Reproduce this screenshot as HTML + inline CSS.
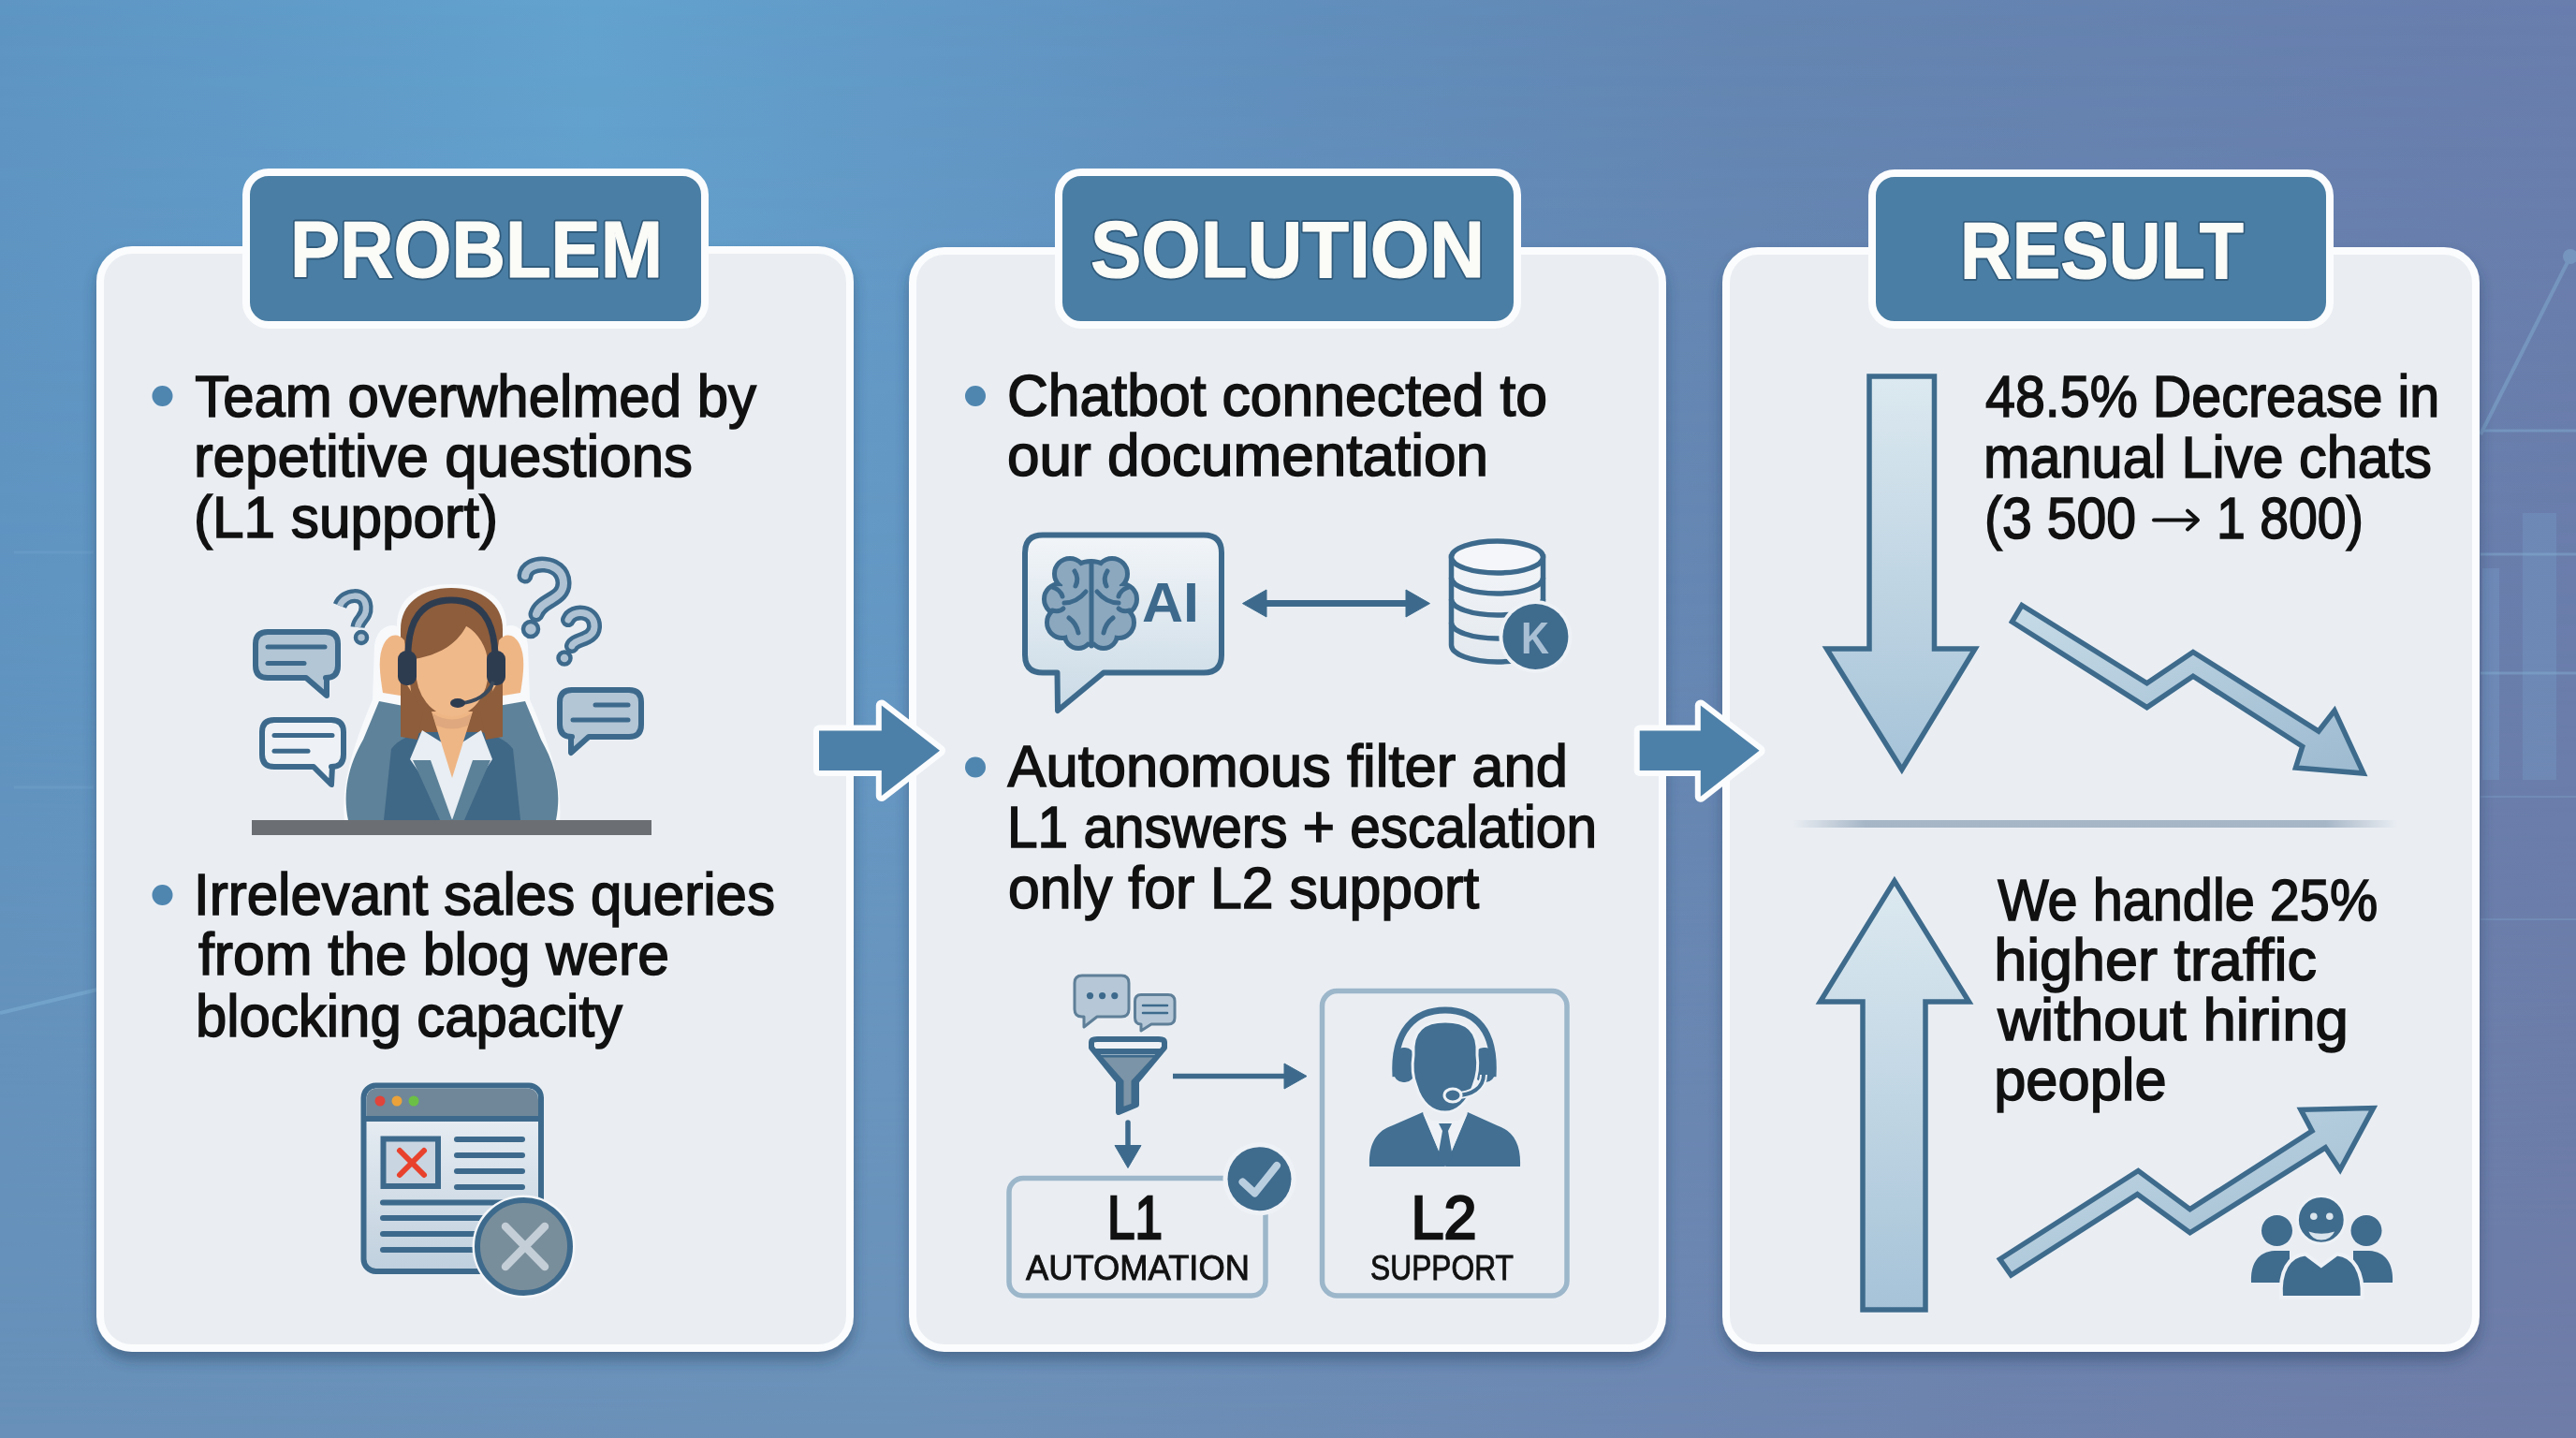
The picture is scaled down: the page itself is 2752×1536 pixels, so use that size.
<!DOCTYPE html>
<html><head><meta charset="utf-8">
<style>
html,body{margin:0;padding:0;width:2752px;height:1536px;overflow:hidden;background:#6189b6;}
svg{display:block;position:absolute;left:0;top:0;}
text{font-family:"Liberation Sans",sans-serif;}
</style></head>
<body>
<svg width="2752" height="1536" viewBox="0 0 2752 1536">
<defs>
  <linearGradient id="bgH" x1="0" y1="0" x2="1" y2="0">
    <stop offset="0" stop-color="#5e95c3"/>
    <stop offset="0.23" stop-color="#63a2cf"/>
    <stop offset="0.5" stop-color="#618fbd"/>
    <stop offset="0.68" stop-color="#6486b2"/>
    <stop offset="1" stop-color="#697ead"/>
  </linearGradient>
  <linearGradient id="bgB" x1="0" y1="0" x2="1" y2="0">
    <stop offset="0" stop-color="#6890b8"/>
    <stop offset="0.35" stop-color="#6c91b8"/>
    <stop offset="0.65" stop-color="#6d87b1"/>
    <stop offset="1" stop-color="#6e7ca7"/>
  </linearGradient>
  <linearGradient id="bgMaskG" x1="0" y1="0" x2="0" y2="1">
    <stop offset="0" stop-color="#fff" stop-opacity="0"/>
    <stop offset="0.45" stop-color="#fff" stop-opacity="0.25"/>
    <stop offset="1" stop-color="#fff" stop-opacity="1"/>
  </linearGradient>
  <mask id="bgMask" maskUnits="userSpaceOnUse" x="0" y="0" width="2752" height="1536">
    <rect x="0" y="0" width="2752" height="1536" fill="url(#bgMaskG)"/>
  </mask>
  <filter id="shadow" x="-5%" y="-5%" width="110%" height="112%">
    <feGaussianBlur in="SourceAlpha" stdDeviation="7"/>
    <feOffset dx="0" dy="9" result="b"/>
    <feFlood flood-color="#243f5e" flood-opacity="0.45"/>
    <feComposite in2="b" operator="in"/>
    <feMerge><feMergeNode/><feMergeNode in="SourceGraphic"/></feMerge>
  </filter>
  <linearGradient id="arrowFill" x1="0" y1="0" x2="0" y2="1">
    <stop offset="0" stop-color="#dbe8f0"/>
    <stop offset="1" stop-color="#a9c3d7"/>
  </linearGradient>
</defs>

<!-- background -->
<rect x="0" y="0" width="2752" height="1536" fill="url(#bgH)"/>
<rect x="0" y="0" width="2752" height="1536" fill="url(#bgB)" mask="url(#bgMask)"/>

<!-- faint background decorations -->
<g stroke="#8cc0e0" fill="none" opacity="0.35">
  <line x1="15" y1="590" x2="100" y2="590" stroke-width="3" opacity="0.5"/>
  <line x1="15" y1="841" x2="100" y2="841" stroke-width="3" opacity="0.5"/>
  <line x1="0" y1="1082" x2="104" y2="1057" stroke-width="4"/>
  <line x1="2650" y1="464" x2="2746" y2="274" stroke-width="4"/>
  <circle cx="2746" cy="274" r="8" fill="#8cc0e0" stroke="none"/>
  <line x1="2650" y1="460" x2="2752" y2="460" stroke-width="3"/>
  <line x1="2650" y1="592" x2="2752" y2="592" stroke-width="3"/>
  <line x1="2650" y1="719" x2="2752" y2="719" stroke-width="3"/>
  <line x1="2650" y1="851" x2="2752" y2="851" stroke-width="2" opacity="0.6"/>
  <line x1="2650" y1="982" x2="2752" y2="982" stroke-width="2" opacity="0.6"/>
</g>
<g fill="#7fb3d8" opacity="0.22">
  <rect x="2695" y="548" width="36" height="285"/>
  <rect x="2652" y="607" width="18" height="226"/>
</g>
<!-- cards -->
<g filter="url(#shadow)">
  <rect x="107" y="267" width="801" height="1173" rx="34" fill="#eaeef3" stroke="#fbfcfd" stroke-width="8"/>
  <rect x="975" y="268" width="801" height="1172" rx="34" fill="#eaeef3" stroke="#fbfcfd" stroke-width="8"/>
  <rect x="1844" y="268" width="801" height="1172" rx="34" fill="#eaeef3" stroke="#fbfcfd" stroke-width="8"/>
</g>

<!-- tabs -->
<g>
  <rect x="263" y="184" width="490" height="163" rx="24" fill="#4a7ea4" stroke="#fbfcfd" stroke-width="8"/>
  <rect x="1131" y="184" width="490" height="163" rx="24" fill="#4a7ea4" stroke="#fbfcfd" stroke-width="8"/>
  <rect x="2000" y="185" width="489" height="162" rx="24" fill="#4a7ea4" stroke="#fbfcfd" stroke-width="8"/>
</g>
<g font-weight="bold" font-size="86" fill="#2c5676" stroke="#2c5676" stroke-width="5" stroke-linejoin="round" opacity="0.85">
  <text x="310" y="296" textLength="398" lengthAdjust="spacingAndGlyphs">PROBLEM</text>
  <text x="1165" y="296" textLength="421" lengthAdjust="spacingAndGlyphs">SOLUTION</text>
  <text x="2094" y="297" textLength="303" lengthAdjust="spacingAndGlyphs">RESULT</text>
</g>
<g font-weight="bold" font-size="86" fill="#fbfbf8" stroke="#fbfbf8" stroke-width="1.2" stroke-linejoin="round">
  <text id="t_prob" x="310" y="296" textLength="398" lengthAdjust="spacingAndGlyphs">PROBLEM</text>
  <text id="t_sol" x="1165" y="296" textLength="421" lengthAdjust="spacingAndGlyphs">SOLUTION</text>
  <text id="t_res" x="2094" y="297" textLength="303" lengthAdjust="spacingAndGlyphs">RESULT</text>
</g>

<!-- bullets -->
<g fill="#4f86b0">
  <circle cx="173.5" cy="423" r="11"/>
  <circle cx="173.5" cy="956" r="11"/>
  <circle cx="1042" cy="423" r="11"/>
  <circle cx="1042" cy="819.5" r="11"/>
</g>

<!-- body text -->
<g font-size="63" fill="#111" stroke="#111" stroke-width="1.6">
  <text x="208.2" y="445" textLength="599.8" lengthAdjust="spacingAndGlyphs">Team overwhelmed by</text>
  <text x="207.0" y="509" textLength="533.0" lengthAdjust="spacingAndGlyphs">repetitive questions</text>
  <text x="207.0" y="574" textLength="325.0" lengthAdjust="spacingAndGlyphs">(L1 support)</text>

  <text x="207.0" y="977" textLength="621.0" lengthAdjust="spacingAndGlyphs">Irrelevant sales queries</text>
  <text x="212.0" y="1041" textLength="503.0" lengthAdjust="spacingAndGlyphs">from the blog were</text>
  <text x="209.0" y="1107" textLength="456.0" lengthAdjust="spacingAndGlyphs">blocking capacity</text>

  <text x="1076.0" y="444" textLength="577.0" lengthAdjust="spacingAndGlyphs">Chatbot connected to</text>
  <text x="1076.0" y="508" textLength="514.0" lengthAdjust="spacingAndGlyphs">our documentation</text>

  <text x="1076.4" y="840" textLength="598.6" lengthAdjust="spacingAndGlyphs">Autonomous filter and</text>
  <text x="1076.0" y="905" textLength="630.0" lengthAdjust="spacingAndGlyphs">L1 answers + escalation</text>
  <text x="1077.0" y="970" textLength="503.0" lengthAdjust="spacingAndGlyphs">only for L2 support</text>

  <text x="2121.0" y="445" textLength="485.2" lengthAdjust="spacingAndGlyphs">48.5% Decrease in</text>
  <text x="2119.0" y="509.5" textLength="479.0" lengthAdjust="spacingAndGlyphs">manual Live chats</text>
  <text x="2120" y="575" textLength="162" lengthAdjust="spacingAndGlyphs">(3 500</text>
  <text x="2368" y="575" textLength="157" lengthAdjust="spacingAndGlyphs">1 800)</text>

  <text x="2134.2" y="983" textLength="406.0" lengthAdjust="spacingAndGlyphs">We handle 25%</text>
  <text x="2130.2" y="1047" textLength="344.8" lengthAdjust="spacingAndGlyphs">higher traffic</text>
  <text x="2134.2" y="1111" textLength="374.8" lengthAdjust="spacingAndGlyphs">without hiring</text>
  <text x="2130.2" y="1175" textLength="184.4" lengthAdjust="spacingAndGlyphs">people</text>
</g>

<!-- ILLUSTRATIONS -->
<!-- card1: woman illustration -->
<g id="woman">
  <!-- white halo behind figure -->
  <path d="M372,877 C368,840 380,800 402,748 L404,690 C406,672 420,668 428,676 L428,665 C430,640 450,628 482,628 C515,628 535,640 537,665 L537,676 C545,668 558,672 560,690 L562,748 C585,800 597,840 594,877 Z" fill="#f7f9fb" stroke="#f7f9fb" stroke-width="8" stroke-linejoin="round"/>
  <rect x="269" y="876" width="427" height="16" fill="#6b6e72"/>
  <!-- hair back -->
  <path d="M428,785 L428,672 C428,645 450,628 482,628 C515,628 537,645 537,672 L537,785 Z" fill="#8d5d3c"/>
  <!-- hands -->
  <path d="M409,740 C405,715 404,700 410,688 C416,676 426,676 432,684 L440,745 Z" fill="#efb685"/>
  <path d="M556,740 C560,715 561,700 555,688 C549,676 539,676 533,684 L525,745 Z" fill="#efb685"/>
  <!-- sleeves -->
  <path d="M372,876 C366,846 372,818 388,790 L405,749 L431,754 L448,800 L440,876 Z" fill="#5d8299"/>
  <path d="M594,876 C600,846 594,818 578,790 L561,749 L532,754 L517,800 L525,876 Z" fill="#5d8299"/>
  <!-- torso -->
  <path d="M410,876 L418,800 C425,790 440,784 452,782 L514,782 C526,784 541,790 548,800 L556,876 Z" fill="#3f6786"/>
  <!-- hair lower strands over jacket -->
  <path d="M428,720 L428,787 L446,790 L452,760 Z" fill="#8d5d3c"/>
  <path d="M537,720 L537,787 L519,790 L513,760 Z" fill="#8d5d3c"/>
  <!-- shirt -->
  <path d="M438,811 L451,780 L483,800 L514,780 L526,811 L483,876 Z" fill="#e8eef3"/>
  <!-- neck V -->
  <path d="M461,760 L505,760 L483,831 Z" fill="#efb685"/>
  <!-- lapels -->
  <path d="M441,812 L460,812 L483,876 L470,876 Z" fill="#5b8198"/>
  <path d="M524,812 L505,812 L483,876 L496,876 Z" fill="#5b8198"/>
  <!-- face -->
  <ellipse cx="483" cy="715" rx="39" ry="50" fill="#f0b98a"/>
  <path d="M462,762 Q483,775 504,762 L500,775 Q483,782 466,775 Z" fill="#d9a27a" opacity="0.7"/>
  <!-- hair fringe -->
  <path d="M434,705 C434,662 452,640 482,640 C514,640 532,662 532,705 C528,698 525,694 521,690 C512,680 504,672 499,667 C488,690 465,702 434,705 Z" fill="#8d5d3c"/>
  <!-- headset -->
  <path d="M436,708 C434,660 452,641 482,641 C512,641 530,660 529,708" fill="none" stroke="#2e3c50" stroke-width="7"/>
  <rect x="425" y="695" width="20" height="37" rx="9" fill="#2e3c50"/>
  <rect x="520" y="695" width="20" height="37" rx="9" fill="#2e3c50"/>
  <path d="M527,728 C522,742 508,750 492,751" fill="none" stroke="#3a4a5c" stroke-width="4"/>
  <ellipse cx="489" cy="751" rx="8" ry="5" fill="#2e3c50"/>
</g>
<!-- speech bubbles + question marks -->
<g stroke="#3d6a8c" stroke-width="6" stroke-linejoin="round">
  <path d="M286,675 L348,675 Q361,675 361,688 L361,711 Q361,724 348,724 L349,724 L349,743 L327,724 L286,724 Q273,724 273,711 L273,688 Q273,675 286,675 Z" fill="#b3c6d6"/>
  <path d="M293,769 L354,769 Q367,769 367,782 L367,806 Q367,819 354,819 L355,819 L354,838 L335,819 L293,819 Q280,819 280,806 L280,782 Q280,769 293,769 Z" fill="#eef2f6"/>
  <path d="M611,737 L672,737 Q685,737 685,750 L685,774 Q685,787 672,787 L629,787 L610,804 L610,787 L611,787 Q598,787 598,774 L598,750 Q598,737 611,737 Z" fill="#b3c6d6"/>
</g>
<g stroke="#3d6a8c" stroke-width="5" stroke-linecap="round">
  <line x1="286" y1="691" x2="347" y2="691"/>
  <line x1="286" y1="708.5" x2="325" y2="708.5"/>
  <line x1="293" y1="785.5" x2="355" y2="785.5"/>
  <line x1="293" y1="802.3" x2="329" y2="802.3"/>
  <line x1="636" y1="753" x2="671" y2="753"/>
  <line x1="612" y1="769" x2="671" y2="769"/>
</g>
<g fill="none" stroke-linecap="round" stroke-linejoin="round">
  <path d="M363,647 C368,634 390,632 391,648 C392,660 383,661 382,670" stroke="#3d6a8c" stroke-width="15" stroke-linecap="butt"/>
  <path d="M363,647 C368,634 390,632 391,648 C392,660 383,661 382,670" stroke="#aec2d3" stroke-width="6.5" stroke-linecap="butt"/>
  <circle cx="386" cy="681" r="6" fill="#aec2d3" stroke="#3d6a8c" stroke-width="4.5"/>
  <path d="M561,615 C563,598 601,598 602,622 C603,641 578,640 573,656" stroke="#3d6a8c" stroke-width="17"/>
  <path d="M561,615 C563,598 601,598 602,622 C603,641 578,640 573,656" stroke="#aec2d3" stroke-width="8"/>
  <circle cx="567" cy="672" r="8" fill="#aec2d3" stroke="#3d6a8c" stroke-width="4.5"/>
  <path d="M607,662 C612,650 636,652 635,670 C634,684 614,682 611,690" stroke="#3d6a8c" stroke-width="16"/>
  <path d="M607,662 C612,650 636,652 635,670 C634,684 614,682 611,690" stroke="#aec2d3" stroke-width="7"/>
  <circle cx="603" cy="703" r="6.5" fill="#aec2d3" stroke="#3d6a8c" stroke-width="4.5"/>
</g>


<!-- card1: browser icon -->
<g id="browser">
  <defs>
    <linearGradient id="brBody" x1="0" y1="0" x2="0" y2="1">
      <stop offset="0" stop-color="#eef2f6"/><stop offset="1" stop-color="#c0d0de"/>
    </linearGradient>
  </defs>
  <rect x="388.5" y="1159.5" width="189.5" height="198.5" rx="13" fill="url(#brBody)" stroke="#3d6a8c" stroke-width="6"/>
  <path d="M391.5,1194 L391.5,1175 Q391.5,1162.5 404,1162.5 L562,1162.5 Q575,1162.5 575,1175 L575,1194 Z" fill="#6f8799"/>
  <line x1="388.5" y1="1195" x2="578" y2="1195" stroke="#3d6a8c" stroke-width="6"/>
  <circle cx="406" cy="1176" r="5.5" fill="#e0443a"/>
  <circle cx="424" cy="1176" r="5.5" fill="#eba23a"/>
  <circle cx="442" cy="1176" r="5.5" fill="#6cbf45"/>
  <rect x="409.5" y="1216.5" width="58.5" height="50.5" fill="#c9d5e0" stroke="#3d6a8c" stroke-width="6"/>
  <g stroke="#e8412c" stroke-width="6" stroke-linecap="round">
    <line x1="427" y1="1229" x2="453" y2="1255"/><line x1="453" y1="1229" x2="427" y2="1255"/>
  </g>
  <g stroke="#3d6a8c" stroke-width="6" stroke-linecap="round">
    <line x1="488" y1="1217" x2="558" y2="1217"/>
    <line x1="488" y1="1234" x2="558" y2="1234"/>
    <line x1="488" y1="1251" x2="558" y2="1251"/>
    <line x1="488" y1="1268" x2="558" y2="1268"/>
    <line x1="409" y1="1284.5" x2="540" y2="1284.5"/>
    <line x1="409" y1="1301" x2="520" y2="1301"/>
    <line x1="409" y1="1318" x2="520" y2="1318"/>
    <line x1="409" y1="1335" x2="520" y2="1335"/>
  </g>
  <circle cx="559.5" cy="1331.5" r="55" fill="#f4f6f9"/>
  <circle cx="559.5" cy="1331.5" r="49.5" fill="#798e9b" stroke="#3d6a8c" stroke-width="6"/>
  <g stroke="#c3ced7" stroke-width="8.5" stroke-linecap="round">
    <line x1="540" y1="1310" x2="582" y2="1353"/><line x1="582" y1="1310" x2="540" y2="1353"/>
  </g>
</g>

<!-- arrows between cards -->
<g fill="#fbfcfd" stroke="#fbfcfd" stroke-width="12" stroke-linejoin="round">
  <path d="M875,780.6 L941.8,780.6 L941.8,753.4 L1004,801.8 L941.8,850 L941.8,822.9 L875,822.9 Z"/>
  <path d="M1751.7,780.6 L1816.8,780.6 L1816.8,753.4 L1879.6,801.8 L1816.8,850.7 L1816.8,822.9 L1751.7,822.9 Z"/>
</g>
<g fill="#4d80a8">
  <path d="M875,780.6 L941.8,780.6 L941.8,753.4 L1004,801.8 L941.8,850 L941.8,822.9 L875,822.9 Z"/>
  <path d="M1751.7,780.6 L1816.8,780.6 L1816.8,753.4 L1879.6,801.8 L1816.8,850.7 L1816.8,822.9 L1751.7,822.9 Z"/>
</g>


<!-- card2: AI bubble -->
<g id="aibubble">
  <defs>
    <linearGradient id="bubG" x1="0" y1="0" x2="0" y2="1">
      <stop offset="0" stop-color="#f2f5f8"/><stop offset="1" stop-color="#c9dae6"/>
    </linearGradient>
    <linearGradient id="dbG" x1="0" y1="0" x2="0" y2="1">
      <stop offset="0" stop-color="#f3f5f8"/><stop offset="1" stop-color="#e3e9ef"/>
    </linearGradient>
  </defs>
  <path d="M1114,571.5 L1286,571.5 Q1305,571.5 1305,590.5 L1305,699.5 Q1305,718.5 1286,718.5 L1179,718.5 L1130,759 L1129.5,718.5 L1114,718.5 Q1095,718.5 1095,699.5 L1095,590.5 Q1095,571.5 1114,571.5 Z" fill="url(#bubG)" stroke="#3d6a8c" stroke-width="6" stroke-linejoin="round"/>
  <!-- brain: stroked union of lobes -->
  <g stroke="#3d6a8c" stroke-width="10" fill="#3d6a8c">
    <circle cx="1143" cy="613" r="14"/><circle cx="1188" cy="613" r="14"/>
    <circle cx="1132" cy="640" r="14"/><circle cx="1198" cy="640" r="14"/>
    <circle cx="1135" cy="665" r="14"/><circle cx="1195" cy="665" r="14"/>
    <circle cx="1152" cy="678" r="12"/><circle cx="1179" cy="678" r="12"/>
    <ellipse cx="1165.5" cy="644" rx="34" ry="42"/>
  </g>
  <g fill="#8ca8bf">
    <circle cx="1143" cy="613" r="14"/><circle cx="1188" cy="613" r="14"/>
    <circle cx="1132" cy="640" r="14"/><circle cx="1198" cy="640" r="14"/>
    <circle cx="1135" cy="665" r="14"/><circle cx="1195" cy="665" r="14"/>
    <circle cx="1152" cy="678" r="12"/><circle cx="1179" cy="678" r="12"/>
    <ellipse cx="1165.5" cy="644" rx="34" ry="42"/>
  </g>
  <g stroke="#3d6a8c" stroke-width="5" fill="none" stroke-linecap="round">
    <line x1="1166" y1="600" x2="1166" y2="690"/>
    <path d="M1137,644 Q1150,644 1160,632"/><path d="M1195,644 Q1182,644 1172,632"/>
    <path d="M1148,610 Q1153,618 1149,626"/><path d="M1183,610 Q1178,618 1182,626"/>
    <path d="M1142,660 Q1150,666 1152,676"/><path d="M1189,660 Q1181,666 1179,676"/>
    <path d="M1124,627 Q1133,630 1135,637"/><path d="M1206,627 Q1197,630 1195,637"/>
    <path d="M1124,652 Q1132,654 1136,650"/><path d="M1207,652 Q1199,654 1195,650"/>
  </g>
  <text x="1220" y="664.4" font-family="Liberation Sans" font-weight="bold" font-size="60" fill="#3d6a8c" textLength="61" lengthAdjust="spacingAndGlyphs">AI</text>
</g>
<!-- double arrow -->
<g fill="#3d6a8c" stroke="#3d6a8c">
  <line x1="1345" y1="644.6" x2="1510" y2="644.6" stroke-width="7"/>
  <path d="M1327.5,644.6 L1353,630 L1353,659 Z" stroke-width="1"/>
  <path d="M1527.5,644.6 L1502,630 L1502,659 Z" stroke-width="1"/>
</g>
<!-- database -->
<g id="db" stroke="#3d6a8c" stroke-width="5.5" fill="url(#dbG)">
  <path d="M1550.5,595 L1550.5,689 A49,18 0 0 0 1648.5,689 L1648.5,595 Z"/>
  <ellipse cx="1599.5" cy="595" rx="49" ry="17" fill="#f4f6f9"/>
  <path d="M1550.5,617 A49,17 0 0 0 1648.5,617" fill="none"/>
  <path d="M1550.5,640 A49,17 0 0 0 1648.5,640" fill="none"/>
  <path d="M1550.5,665 A49,17 0 0 0 1648.5,665" fill="none"/>
  <circle cx="1640.4" cy="680" r="39" fill="#eef2f6" stroke="none"/>
  <circle cx="1640.4" cy="680" r="35" fill="#3f6b8d" stroke="none"/>
  <text x="1625" y="698" font-family="Liberation Sans" font-weight="bold" font-size="48" fill="#a9c0d4" stroke="none" textLength="30" lengthAdjust="spacingAndGlyphs">K</text>
</g>

<!-- small chat bubbles -->
<g stroke="#5f7f98" stroke-width="3" stroke-linejoin="round">
  <path d="M1156,1042 L1198,1042 Q1206,1042 1206,1050 L1206,1078 Q1206,1086 1198,1086 L1172,1086 L1158,1097 L1158,1086 L1156,1086 Q1148,1086 1148,1078 L1148,1050 Q1148,1042 1156,1042 Z" fill="#b6c8d7"/>
  <path d="M1219,1062.5 L1248,1062.5 Q1255,1062.5 1255,1069.5 L1255,1087 Q1255,1094 1248,1094 L1230,1094 L1219,1101 L1219,1094 Q1212.5,1094 1212.5,1087 L1212.5,1069.5 Q1212.5,1062.5 1219,1062.5 Z" fill="#b6c8d7"/>
</g>
<g fill="#3d6a8c">
  <circle cx="1164.5" cy="1063.6" r="3.6"/><circle cx="1177.6" cy="1063.6" r="3.6"/><circle cx="1190.8" cy="1063.6" r="3.6"/>
</g>
<g stroke="#3d6a8c" stroke-width="2.5" stroke-linecap="round">
  <line x1="1221" y1="1074" x2="1247" y2="1074"/><line x1="1221" y1="1082" x2="1247" y2="1082"/>
</g>
<!-- funnel -->
<g stroke="#3d6a8c" stroke-width="6" stroke-linejoin="round">
  <path d="M1166,1113 Q1166,1110 1172,1110 L1238,1110 Q1244,1110 1244,1113 L1244,1119 L1214,1155 L1214,1180 L1195,1188 L1195,1155 L1166,1119 Z" fill="#eef2f6"/>
  <path d="M1175,1128 L1235,1128 L1210,1155 L1210,1180 L1199,1184 L1199,1155 Z" fill="#7c94a7" stroke-width="3"/>
  <line x1="1168" y1="1123" x2="1242" y2="1123" stroke-width="6"/>
</g>
<!-- arrows -->
<g fill="#3d6a8c" stroke="#3d6a8c">
  <line x1="1253" y1="1149.5" x2="1375" y2="1149.5" stroke-width="5.5"/>
  <path d="M1396,1149.5 L1372,1136 L1372,1163 Z" stroke-width="1"/>
  <line x1="1205" y1="1199" x2="1205" y2="1226" stroke-width="5.5" stroke-linecap="round"/>
  <path d="M1205,1247.5 L1191,1223.5 L1219,1223.5 Z" stroke-width="1"/>
</g>
<!-- L1 / L2 boxes -->
<g fill="none" stroke="#9cb6ca" stroke-width="5.5">
  <rect x="1078" y="1258.5" width="274" height="125.5" rx="15"/>
  <rect x="1412.5" y="1058.5" width="261.5" height="325.5" rx="16"/>
</g>
<!-- check badge -->
<circle cx="1345.5" cy="1259.2" r="39" fill="#eef2f6"/>
<circle cx="1345.5" cy="1259.2" r="34" fill="#3f6b8d"/>
<path d="M1327.5,1262.5 L1340.5,1274.5 L1364,1245" fill="none" stroke="#b9cfe0" stroke-width="8" stroke-linecap="round" stroke-linejoin="round"/>
<!-- agent icon -->
<g id="agent" fill="#426f92">
  <path d="M1491,1150 C1488,1100 1512,1079 1544,1079 C1576,1079 1598,1100 1595,1150" fill="none" stroke="#426f92" stroke-width="7"/>
  <rect x="1489" y="1119" width="22" height="37" rx="10"/>
  <rect x="1575" y="1119" width="22" height="37" rx="10"/>
  <path d="M1510,1127 C1508,1100 1522,1091 1544,1091 C1566,1091 1580,1100 1578,1127 C1580,1140 1578,1150 1574,1160 C1568,1178 1556,1188 1544,1188 C1530,1188 1518,1178 1513,1160 C1509,1150 1508,1140 1510,1127 Z" stroke="#eef2f6" stroke-width="3"/>
  <path d="M1463,1246 C1462,1222 1470,1208 1488,1202 L1520,1188 L1544,1246 Z"/>
  <path d="M1624,1246 C1625,1222 1617,1208 1599,1202 L1568,1188 L1544,1246 Z"/>
  <path d="M1520,1189 L1544,1246 L1568,1189 L1558,1197 L1544,1198 L1530,1197 Z" fill="#eef2f6"/>
  <path d="M1537,1200 L1551,1200 L1547,1208 L1552,1236 L1544,1246 L1536,1236 L1541,1208 Z"/>
  <path d="M1585,1148 C1585,1162 1572,1170 1556,1170" fill="none" stroke="#eef2f6" stroke-width="8"/>
  <path d="M1585,1148 C1585,1162 1572,1170 1556,1170" fill="none" stroke="#426f92" stroke-width="4"/>
  <ellipse cx="1552" cy="1170" rx="9" ry="7" stroke="#eef2f6" stroke-width="3"/>
</g>
<!-- L1/L2 labels -->
<g font-family="Liberation Sans" fill="#111" stroke="#111">
  <text x="1183" y="1322.7" font-size="65" stroke-width="2.6" textLength="59" lengthAdjust="spacingAndGlyphs">L1</text>
  <text x="1096" y="1366.8" font-size="37" stroke-width="0.9" textLength="239" lengthAdjust="spacingAndGlyphs">AUTOMATION</text>
  <text x="1507.5" y="1323" font-size="65" stroke-width="2.6" textLength="70" lengthAdjust="spacingAndGlyphs">L2</text>
  <text x="1464" y="1366.7" font-size="37" stroke-width="0.9" textLength="153" lengthAdjust="spacingAndGlyphs">SUPPORT</text>
</g>


<!-- card3 -->
<defs>
  <linearGradient id="bigArrG" x1="0" y1="0" x2="0" y2="1">
    <stop offset="0" stop-color="#dce9f0"/><stop offset="1" stop-color="#a6c3d8"/>
  </linearGradient>
  <linearGradient id="zigG" x1="0" y1="0" x2="1" y2="1">
    <stop offset="0" stop-color="#c6dbe7"/><stop offset="1" stop-color="#9dbad0"/>
  </linearGradient>
  <linearGradient id="divG" x1="0" y1="0" x2="1" y2="0">
    <stop offset="0" stop-color="#9fb0c2" stop-opacity="0"/>
    <stop offset="0.12" stop-color="#9fb0c2" stop-opacity="0.9"/>
    <stop offset="0.88" stop-color="#9fb0c2" stop-opacity="0.9"/>
    <stop offset="1" stop-color="#9fb0c2" stop-opacity="0"/>
  </linearGradient>
</defs>
<g stroke="#3e6b8c" stroke-width="5.5" stroke-linejoin="miter">
  <path d="M1997,402 L2066.5,402 L2066.5,693 L2110,693 L2031.8,822 L1951.5,693 L1997,693 Z" fill="url(#bigArrG)"/>
  <path d="M2023.9,941 L2103.5,1070 L2057,1070 L2057,1399 L1990,1399 L1990,1070 L1944.5,1070 Z" fill="url(#bigArrG)"/>
  <path d="M2160,646.5 L2293.6,729.8 L2342.9,696.5 L2477,781 L2494,759 L2525,826 L2452.5,820 L2459.7,797.3 L2342.9,722.2 L2293.6,755.6 L2149.5,664.2 Z" fill="url(#zigG)"/>
  <path d="M2136.5,1345 L2284.3,1250.5 L2339.6,1291.6 L2470,1208 L2458,1185.3 L2535.5,1183.5 L2500,1249.5 L2484.3,1225.8 L2339.6,1316.8 L2283.4,1275.7 L2148.5,1362 Z" fill="url(#zigG)"/>
</g>
<rect x="1915" y="876" width="647" height="8" fill="url(#divG)"/>
<!-- people -->
<g fill="#3f6b8d">
  <circle cx="2432.5" cy="1314.5" r="16.5"/>
  <circle cx="2528" cy="1314.5" r="16.5"/>
  <path d="M2405,1370 C2404,1350 2412,1337 2430,1336 L2446,1336 L2446,1370 Z"/>
  <path d="M2556,1370 C2557,1350 2549,1337 2531,1336 L2514,1336 L2514,1370 Z"/>
  <path d="M2437,1385.9 C2435,1358 2445,1341 2462.9,1339.5 L2479.8,1352 L2496.8,1339.5 C2514,1341 2525,1358 2523.6,1385.9 Z" stroke="#eef2f6" stroke-width="4"/>
  <circle cx="2479.8" cy="1302.9" r="25.4" stroke="#eef2f6" stroke-width="3"/>
</g>
<g fill="#d9e4ec">
  <circle cx="2471.8" cy="1299.3" r="3.8"/><circle cx="2488.8" cy="1299.3" r="3.8"/>
  <path d="M2466.4,1315.5 Q2479.8,1320 2494.1,1315.5 Q2490,1324.5 2479.8,1324.5 Q2470,1324.5 2466.4,1315.5 Z"/>
</g>

<g stroke="#111" fill="none" stroke-width="4" stroke-linecap="round" stroke-linejoin="round">
  <line x1="2301" y1="555.5" x2="2347" y2="555.5"/>
  <path d="M2337,545.5 L2348,555.5 L2337,565.5"/>
</g>
<!-- ILL5 -->
</svg>
</body></html>
